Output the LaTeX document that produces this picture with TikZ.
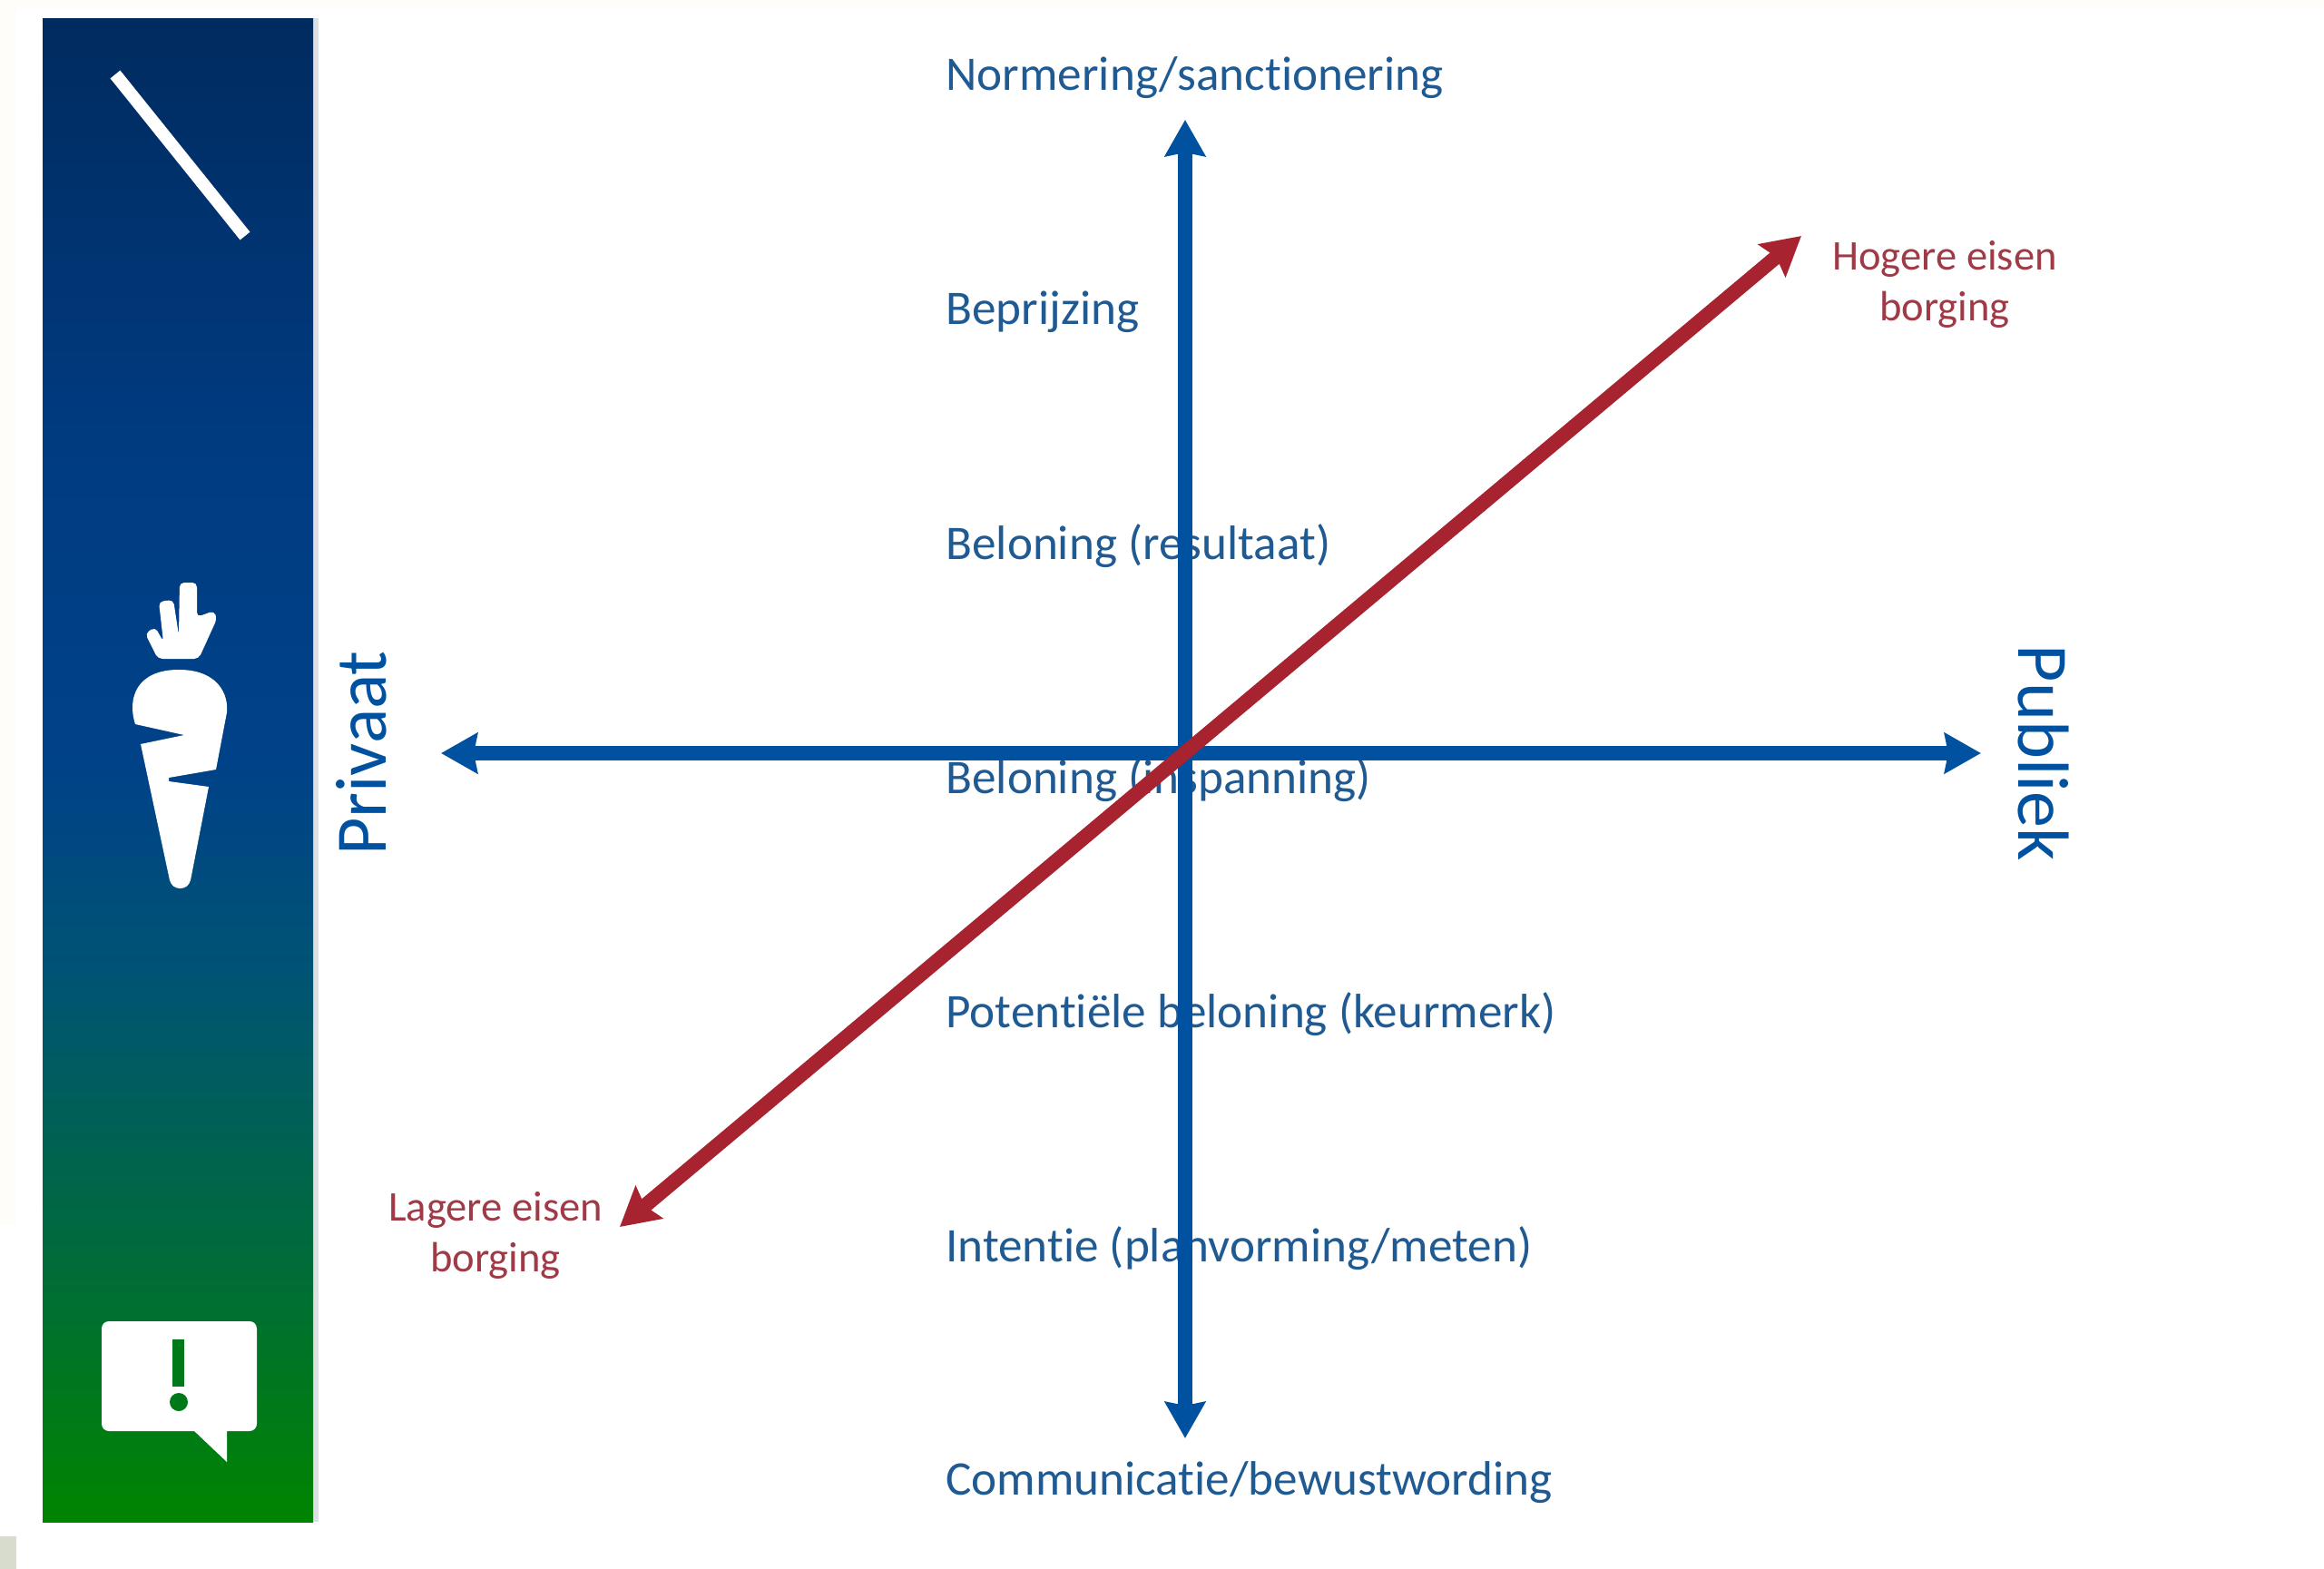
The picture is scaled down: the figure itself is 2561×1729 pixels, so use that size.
\documentclass[tikz,border=0pt]{standalone}
\usepackage{fontspec}
\setmainfont{Carlito}[Ligatures=NoCommon]
\usetikzlibrary{arrows.meta}
\definecolor{axisblue}{HTML}{0052A0}
\definecolor{labelblue}{HTML}{1F5A92}
\definecolor{axisred}{HTML}{A6232F}
\definecolor{labelred}{HTML}{A03A47}
\definecolor{offwhite}{HTML}{FFFDF9}
\definecolor{iconmark}{HTML}{007A18}
\definecolor{patchgrey}{HTML}{D8DCCC}
\definecolor{stripgrey}{HTML}{DDDFE3}
\pgfdeclareverticalshading{sidebarshade}{100bp}{
 rgb(0bp)=(0,0.518,0);
 rgb(25bp)=(0,0.518,0);
 rgb(32bp)=(0,0.44,0.184);
 rgb(43bp)=(0,0.33,0.45);
 rgb(50bp)=(0,0.259,0.533);
 rgb(60bp)=(0,0.235,0.51);
 rgb(75bp)=(0,0.169,0.373);
 rgb(100bp)=(0,0.169,0.373)}
\tikzset{
 x=0.5pt,y=-0.5pt,
 axisarrow/.style={line width=8pt,color=axisblue,{Stealth[length=20pt,width=22pt,inset=2pt]}-{Stealth[length=20pt,width=22pt,inset=2pt]}},
 diagarrow/.style={line width=8pt,color=axisred,{Stealth[length=21pt,width=23pt,inset=3pt]}-{Stealth[length=21pt,width=23pt,inset=3pt]}},
 scalelabel/.style={anchor=west,text=labelblue,font=\fontsize{26.6}{30}\selectfont,inner sep=0pt},
 redlabel/.style={align=center,text=labelred,font=\fontsize{23.3}{28}\selectfont,inner sep=0pt},
 sidelabel/.style={text=axisblue,font=\fontsize{40}{44}\selectfont,inner sep=0pt},
 icon/.style={fill=white,draw=none}
}
\begin{document}
\begin{tikzpicture}
\useasboundingbox (0,0) rectangle (2561,1729);
\fill[white] (0,0) rectangle (2561,1729);
\fill[offwhite] (0,0) rectangle (2561,10);
\fill[offwhite] (0,0) rectangle (18,1350);
\fill[patchgrey] (0,1693) rectangle (18,1729);
% sidebar
\fill[stripgrey] (344,20) rectangle (351,1677);
\shade[shading=sidebarshade] (47,20) rectangle (345,1677);
% stick
\draw[white,line width=7pt,line cap=butt] (127,82) -- (270,260);
% carrot
\fill[icon,rounded corners=2.5pt] (174,726) -- (160,698) -- (171,691) -- (180,707) -- (175,663) -- (191,661) -- (197,700) -- (198,642) -- (217,642) -- (217,680) -- (236,673) -- (239,682) -- (219,726) -- cycle;
\fill[icon] (149,798) .. controls (140,770) and (150,738) .. (197,738)
 .. controls (240,738) and (252,765) .. (250,785) -- (238,848) -- (186,857) -- (186,861) -- (230,867)
 -- (210,970) .. controls (207,982) and (190,982) .. (187,970) -- (155,820) -- (203,810) -- cycle;
% speech bubble
\fill[icon,rounded corners=4pt] (112,1456) rectangle (283,1577);
\fill[icon] (212,1575) -- (250,1611) -- (250,1575) -- cycle;
\fill[iconmark] (190,1476) rectangle (203,1528);
\fill[iconmark] (197,1545) circle (5pt);
% axes
\coordinate (vbottom) at (1306,1585);
\coordinate (vtop) at (1306,132);
\coordinate (hleft) at (486,830);
\coordinate (hright) at (2183,830);
\coordinate (dlow) at (683,1352);
\coordinate (dhigh) at (1985,260);
% labels sit beneath the axes
\node[scalelabel] (t1) at (1042,86) {Normering/sanctionering};
\node[scalelabel] (t2) at (1042,344) {Beprijzing};
\node[scalelabel] (t3) at (1042,602) {Beloning (resultaat)};
\node[scalelabel] (t4) at (1042,860) {Beloning (inspanning)};
\node[scalelabel] (t5) at (1042,1118) {Potentiële beloning (keurmerk)};
\node[scalelabel] (t6) at (1042,1376) {Intentie (planvorming/meten)};
\node[scalelabel] (t7) at (1042,1634) {Communicatie/bewustwording};
\draw[axisarrow] (vbottom) -- (vtop);
\draw[axisarrow] (hleft) -- (hright);
\draw[diagarrow] (dlow) -- (dhigh);
\node[redlabel] (hi) at (2143,313) {Hogere eisen\\borging};
\node[redlabel] (lo) at (546,1361) {Lagere eisen\\borging};
\node[sidelabel,rotate=90] (priv) at (398,830) {Privaat};
\node[sidelabel,rotate=-90] (pub) at (2252,830) {Publiek};
\end{tikzpicture}
\end{document}
